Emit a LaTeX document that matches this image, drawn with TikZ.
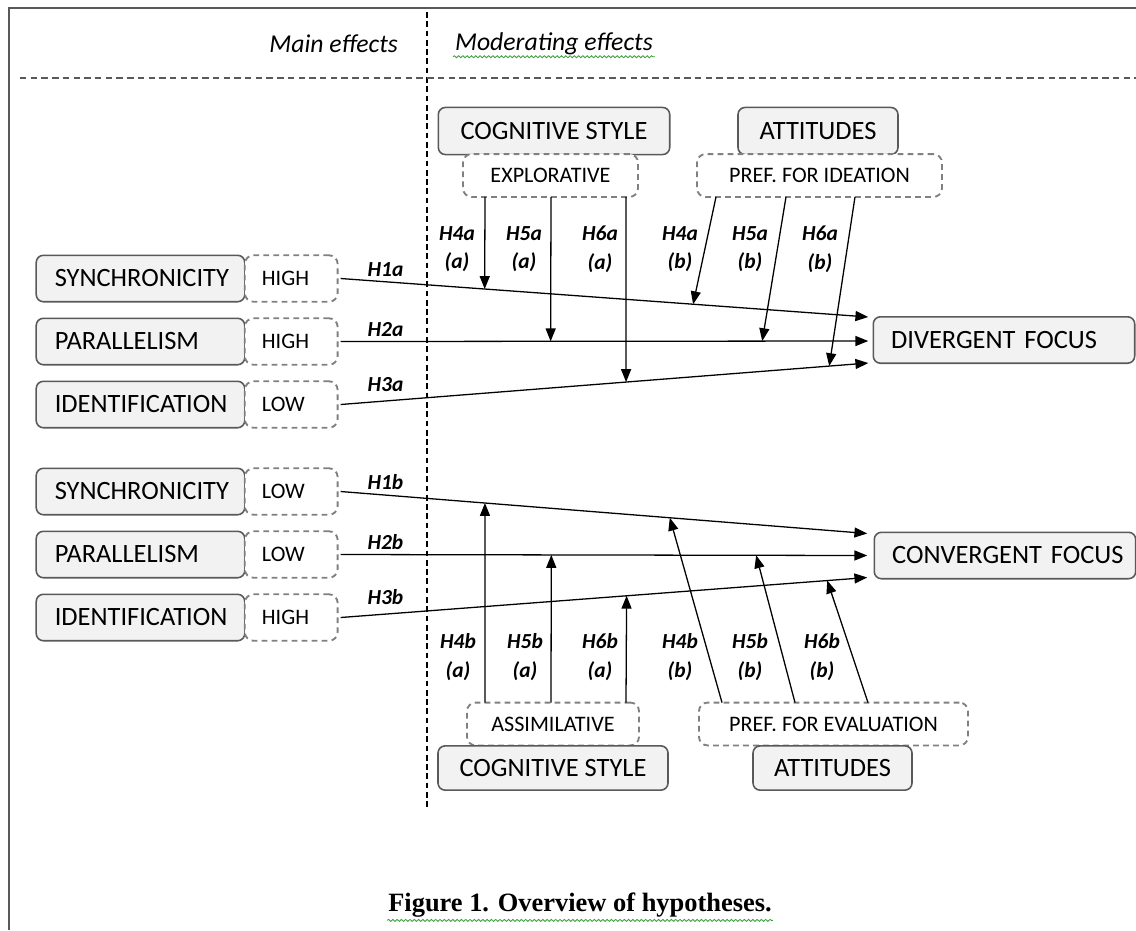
\documentclass[tikz,border=0pt]{standalone}
\usepackage{fontspec}
\setmainfont{Carlito}
\newfontfamily\capfont{Liberation Serif}
\usetikzlibrary{arrows.meta,positioning,calc,decorations.pathmorphing}
\definecolor{BoxFill}{HTML}{F2F2F2}
\definecolor{BoxLine}{HTML}{595959}
\definecolor{DashLine}{HTML}{808080}
\definecolor{Squiggle}{HTML}{3CA03C}

\tikzset{
  factor/.style={draw=BoxLine,fill=BoxFill,rounded corners=5pt,line width=1.1pt,
    minimum height=32.5pt,inner sep=0pt,outer sep=0pt,font=\fontsize{18.5}{20}\selectfont},
  level/.style={draw=DashLine,dash pattern=on 4pt off 3pt,fill=white,rounded corners=6pt,
    line width=1.3pt,minimum height=32.5pt,inner sep=0pt,outer sep=0pt,
    font=\fontsize{15.5}{18}\selectfont},
  hyp/.style={font=\fontsize{15}{20}\selectfont\bfseries\itshape,align=center,inner sep=1pt},
  effect/.style={-{Triangle[length=9pt,width=7pt]},line width=0.9pt},
  squig/.style={Squiggle,line width=0.6pt,decorate,
    decoration={snake,amplitude=0.7pt,segment length=3pt}},
}

\begin{document}
\begin{tikzpicture}[x=0.7pt,y=-0.7pt]
  \useasboundingbox (0,0) rectangle (1136,930);
  % frame and separators
  \draw[BoxLine,line width=1.6pt] (9,930) -- (9,8) -- (1136,8);
  \draw[line width=0.9pt,dash pattern=on 4pt off 2.5pt] (427,12) -- (427,810);
  \draw[BoxLine,line width=1.2pt,dash pattern=on 4.5pt off 3pt] (20,78) -- (1136,78);
  \node[font=\fontsize{18}{20}\selectfont\itshape,anchor=east] (mainhd) at (403,44) {Main effects};
  \node[font=\fontsize{18}{20}\selectfont\itshape,anchor=west] (modhd) at (450,44) {Moderating effects};
  \draw[squig] ($(modhd.base west)+(3,6)$) -- ($(modhd.base east)+(-3,6)$);

  % main effects, divergent
  \node[factor,text width=120pt,inner xsep=13pt,align=left] (sync1) at (140.5,278.5) {SYNCHRONICITY};
  \node[factor,text width=120pt,inner xsep=13pt,align=left,below=11.6pt of sync1] (par1) {PARALLELISM};
  \node[factor,text width=120pt,inner xsep=13pt,align=left,below=11.6pt of par1] (ident1) {IDENTIFICATION};
  \node[level,text width=41pt,inner xsep=12pt,align=left,right=0pt of sync1] (high1) {HIGH};
  \node[level,text width=41pt,inner xsep=12pt,align=left,right=0pt of par1] (high2) {HIGH};
  \node[level,text width=41pt,inner xsep=12pt,align=left,right=0pt of ident1] (low1) {LOW};
  \node[factor,text width=158pt,inner xsep=12.5pt,align=left] (div) at (1004,340) {\mbox{DIVERGENT FOCUS}};

  % main effects, convergent
  \node[factor,text width=120pt,inner xsep=13pt,align=left] (sync2) at (140.5,491.5) {SYNCHRONICITY};
  \node[factor,text width=120pt,inner xsep=13pt,align=left,below=11.6pt of sync2] (par2) {PARALLELISM};
  \node[factor,text width=120pt,inner xsep=13pt,align=left,below=11.6pt of par2] (ident2) {IDENTIFICATION};
  \node[level,text width=41pt,inner xsep=12pt,align=left,right=0pt of sync2] (low2) {LOW};
  \node[level,text width=41pt,inner xsep=12pt,align=left,right=0pt of par2] (low3) {LOW};
  \node[level,text width=41pt,inner xsep=12pt,align=left,right=0pt of ident2] (high3) {HIGH};
  \node[factor,text width=158pt,inner xsep=12.5pt,align=left] (conv) at (1005,555.5) {\mbox{CONVERGENT FOCUS}};

  % moderators
  \node[factor,minimum width=162pt,minimum height=33pt] (cog1) at (554,131) {COGNITIVE STYLE};
  \node[factor,minimum width=112pt,minimum height=33pt] (att1) at (818,131) {ATTITUDES};
  \node[level,minimum width=122.5pt,minimum height=30pt] (expl) at (550.5,175.5) {EXPLORATIVE};
  \node[level,minimum width=171.5pt,minimum height=30pt] (ideat) at (819.5,175.5) {PREF. FOR IDEATION};
  \node[level,minimum width=120.4pt,minimum height=30pt] (assim) at (553,724) {ASSIMILATIVE};
  \node[level,minimum width=188.3pt,minimum height=30pt] (evalu) at (833.5,724) {PREF. FOR EVALUATION};
  \node[factor,minimum width=161pt,minimum height=31pt] (cog2) at (553,768) {COGNITIVE STYLE};
  \node[factor,minimum width=111.3pt,minimum height=31pt] (att2) at (832.5,768) {ATTITUDES};

  % main effect arrows
  \coordinate (a1s) at ($(high1.east)+(3,0)$);
  \coordinate (a2s) at ($(high2.east)+(3,0)$);
  \coordinate (a3s) at ($(low1.east)+(3,0)$);
  \coordinate (a1e) at ($(div.west)+(-5,-23)$);
  \coordinate (a2e) at ($(div.west)+(-5,1)$);
  \coordinate (a3e) at ($(div.west)+(-5,23)$);
  \coordinate (b1s) at ($(low2.east)+(3,0)$);
  \coordinate (b2s) at ($(low3.east)+(3,0)$);
  \coordinate (b3s) at ($(high3.east)+(3,0)$);
  \coordinate (b1e) at ($(conv.west)+(-7,-22)$);
  \coordinate (b2e) at ($(conv.west)+(-7,0)$);
  \coordinate (b3e) at ($(conv.west)+(-7,22)$);
  \draw[effect] (a1s) -- node[hyp,pos=0.085,above=2pt] (h1a) {H1a} (a1e);
  \draw[effect] (a2s) -- node[hyp,pos=0.085,above=2pt] (h2a) {H2a} (a2e);
  \draw[effect] (a3s) -- node[hyp,pos=0.085,above=5pt] (h3a) {H3a} (a3e);
  \draw[effect] (b1s) -- node[hyp,pos=0.085,above=2pt] (h1b) {H1b} (b1e);
  \draw[effect] (b2s) -- node[hyp,pos=0.085,above=2pt] (h2b) {H2b} (b2e);
  \draw[effect] (b3s) -- node[hyp,pos=0.085,above=5pt] (h3b) {H3b} (b3e);

  % moderating arrows
  \draw[effect] (485,0 |- expl.south) -- ($(a1s)!0.273!(a1e)$);
  \draw[effect] (551,0 |- expl.south) -- ($(a2s)!0.398!(a2e)$);
  \draw[effect] (626,0 |- expl.south) -- ($(a3s)!0.541!(a3e)$);
  \draw[effect] (716,0 |- ideat.south) -- ($(a1s)!0.668!(a1e)$);
  \draw[effect] (786,0 |- ideat.south) -- ($(a2s)!0.799!(a2e)$);
  \draw[effect] (855,0 |- ideat.south) -- ($(a3s)!0.926!(a3e)$);
  \draw[effect] (485,0 |- assim.north) -- ($(b1s)!0.274!(b1e)$);
  \draw[effect] (551,0 |- assim.north) -- ($(b2s)!0.4!(b2e)$);
  \draw[effect] (626,0 |- assim.north) -- ($(b3s)!0.543!(b3e)$);
  \draw[effect] (722,0 |- evalu.north) -- ($(b1s)!0.625!(b1e)$);
  \draw[effect] (795,0 |- evalu.north) -- ($(b2s)!0.789!(b2e)$);
  \draw[effect] (868,0 |- evalu.north) -- ($(b3s)!0.924!(b3e)$);

  % hypothesis labels
  \foreach \x/\h/\m in {457/H4a/a,524/H5a/a,600/H6a/a,680/H4a/b,750/H5a/b,820/H6a/b}
    \node[hyp] (top\x) at (\x,249) {\h\\(\m)};
  \foreach \x/\h/\m in {458/H4b/a,525/H5b/a,600/H6b/a,680/H4b/b,750/H5b/b,822/H6b/b}
    \node[hyp] (bot\x) at (\x,657) {\h\\(\m)};

  % caption
  \node[font=\capfont\bfseries\fontsize{18.5}{20}\selectfont] (cap) at (580,905) {Figure 1. Overview of hypotheses.};
  \draw[squig] ($(cap.base west)+(4,9)$) -- ($(cap.base east)+(-4,9)$);
\end{tikzpicture}
\end{document}
